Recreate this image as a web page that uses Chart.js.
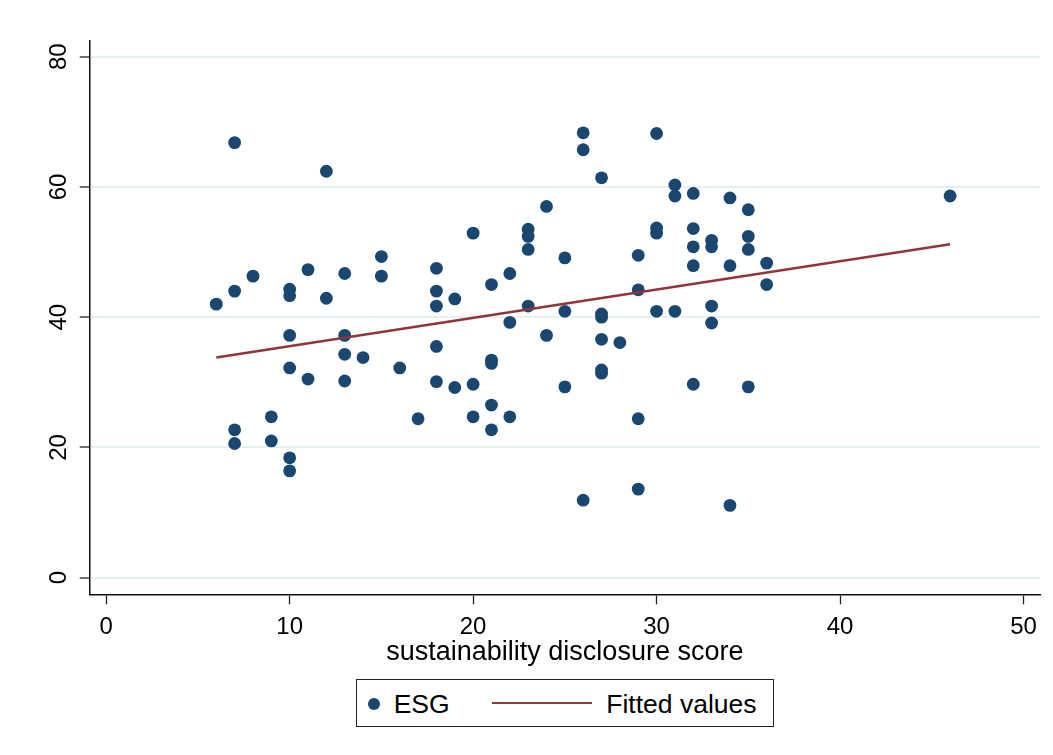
<!DOCTYPE html>
<html>
<head>
<meta charset="utf-8">
<script src="https://cdn.jsdelivr.net/npm/chart.js@4.4.1/dist/chart.umd.min.js"></script>
<style>
  html, body { margin: 0; padding: 0; background: #ffffff; }
  #wrap { position: relative; width: 1053px; height: 755px; background: #ffffff; }
  #c { position: absolute; left: 0; top: 0; }
  #legend { position: absolute; left: 356px; top: 679px; width: 418px; height: 48px;
            border: 1px solid #222; box-sizing: border-box; background: #fff;
            font-family: 'Liberation Sans', Arial, sans-serif; font-size: 26.5px; color: #000; }
  #legend .dot { position: absolute; left: 10.5px; top: 17.5px; width: 12.5px; height: 12.5px;
                 border-radius: 50%; background: #1a476f; }
  #legend .txt { position: absolute; line-height: 26px; white-space: nowrap; top: 11px; }
  #legend .ln { position: absolute; left: 134.7px; top: 21.8px; width: 100px; height: 2.5px; background: #90353b; }
</style>
</head>
<body>
<div id="wrap">
  <canvas id="c" width="1053" height="755"></canvas>
  <div id="legend">
    <span class="dot"></span>
    <span class="txt" style="left:36.7px">ESG</span>
    <span class="ln"></span>
    <span class="txt" style="left:249.3px">Fitted values</span>
  </div>
</div>
<script>
// ---- data ----
const esgX = [
  6,
  7, 7, 7, 7,
  8,
  9, 9,
  10, 10, 10, 10, 10, 10,
  11, 11,
  12, 12,
  13, 13, 13, 13,
  14,
  15, 15,
  16,
  17,
  18, 18, 18, 18, 18,
  19, 19,
  20, 20, 20,
  21, 21, 21, 21, 21,
  22, 22, 22,
  23, 23, 23, 23,
  24, 24,
  25, 25, 25,
  26, 26, 26,
  27, 27, 27, 27, 27, 27,
  28,
  29, 29, 29, 29,
  30, 30, 30, 30,
  31, 31, 31,
  32, 32, 32, 32, 32,
  33, 33, 33, 33,
  34, 34, 34,
  35, 35, 35, 35,
  36, 36,
  46
];
const esgY = [
  42.0,
  66.8, 44.0, 22.7, 20.6,
  46.3,
  24.7, 21.0,
  44.3, 43.3, 37.2, 32.2, 18.4, 16.4,
  47.3, 30.5,
  62.4, 42.9,
  46.7, 37.2, 34.3, 30.2,
  33.8,
  49.3, 46.3,
  32.2,
  24.4,
  47.5, 44.0, 41.7, 35.5, 30.1,
  42.8, 29.2,
  52.9, 29.7, 24.7,
  45.0, 33.4, 32.9, 26.5, 22.7,
  46.7, 39.2, 24.7,
  53.5, 52.4, 50.4, 41.7,
  57.0, 37.2,
  49.1, 40.9, 29.3,
  68.3, 65.7, 11.9,
  61.4, 40.5, 40.0, 36.6, 31.9, 31.4,
  36.1,
  49.5, 44.2, 24.4, 13.6,
  68.2, 53.7, 52.9, 40.9,
  60.3, 58.6, 40.9,
  59.0, 53.6, 50.8, 47.9, 29.7,
  51.8, 50.8, 41.7, 39.1,
  58.3, 47.9, 11.1,
  56.5, 52.4, 50.4, 29.3,
  48.3, 45.0,
  58.6
];
const fittedX = [6, 46];
const fittedY = [33.8, 51.2];
const xTicks = [0, 10, 20, 30, 40, 50];
const yTicks = [0, 20, 40, 60, 80];
const xTitle = 'sustainability disclosure score';
const seriesNames = ['ESG', 'Fitted values'];

const FONT = "'Liberation Sans', Arial, sans-serif";
const esgPoints = esgX.map((x, i) => ({ x: x, y: esgY[i] }));
const fitPoints = fittedX.map((x, i) => ({ x: x, y: fittedY[i] }));

new Chart(document.getElementById('c'), {
  type: 'scatter',
  data: {
    datasets: [
      {
        label: seriesNames[0],
        data: esgPoints,
        pointRadius: 6.4,
        pointHoverRadius: 6.4,
        pointBackgroundColor: '#1a476f',
        pointBorderWidth: 0,
        borderColor: '#1a476f',
        showLine: false,
        order: 2
      },
      {
        label: seriesNames[1],
        data: fitPoints,
        showLine: true,
        borderColor: '#90353b',
        borderWidth: 2.5,
        pointRadius: 0,
        pointHoverRadius: 0,
        fill: false,
        order: 1
      }
    ]
  },
  options: {
    responsive: false,
    animation: false,
    devicePixelRatio: 1,
    events: [],
    layout: { padding: { left: 0, top: 41, right: 13, bottom: 83 } },
    plugins: {
      legend: { display: false },
      tooltip: { enabled: false }
    },
    scales: {
      x: {
        type: 'linear',
        min: -0.9,
        max: 50.9,
        afterBuildTicks: (s) => { s.ticks = xTicks.map(v => ({ value: v })); },
        afterFit: (s) => { s.height = 77.7; },
        grid: { display: true, drawOnChartArea: false, drawTicks: true, tickLength: 10,
                tickColor: '#222', tickWidth: 1.3 },
        border: { display: true, color: '#111', width: 1.5 },
        ticks: { color: '#000', font: { family: FONT, size: 24 }, padding: 8.5, maxRotation: 0, autoSkip: false },
        title: { display: true, text: xTitle, color: '#000', font: { family: FONT, size: 27 },
                 padding: { top: 0, bottom: 3 } }
      },
      y: {
        type: 'linear',
        min: -2.55,
        max: 82.4,
        afterBuildTicks: (s) => { s.ticks = yTicks.map(v => ({ value: v })); },
        afterFit: (s) => { s.width = 89.7; },
        grid: { display: true, drawOnChartArea: true, drawTicks: true, tickLength: 10,
                color: '#e6eff1', lineWidth: 2, tickColor: '#222', tickWidth: 1.3 },
        border: { display: true, color: '#111', width: 1.5 },
        ticks: { color: '#000', font: { family: FONT, size: 24 }, padding: 7,
                 minRotation: 90, maxRotation: 90, crossAlign: 'center', autoSkip: false }
      }
    }
  }
});
</script>
</body>
</html>
